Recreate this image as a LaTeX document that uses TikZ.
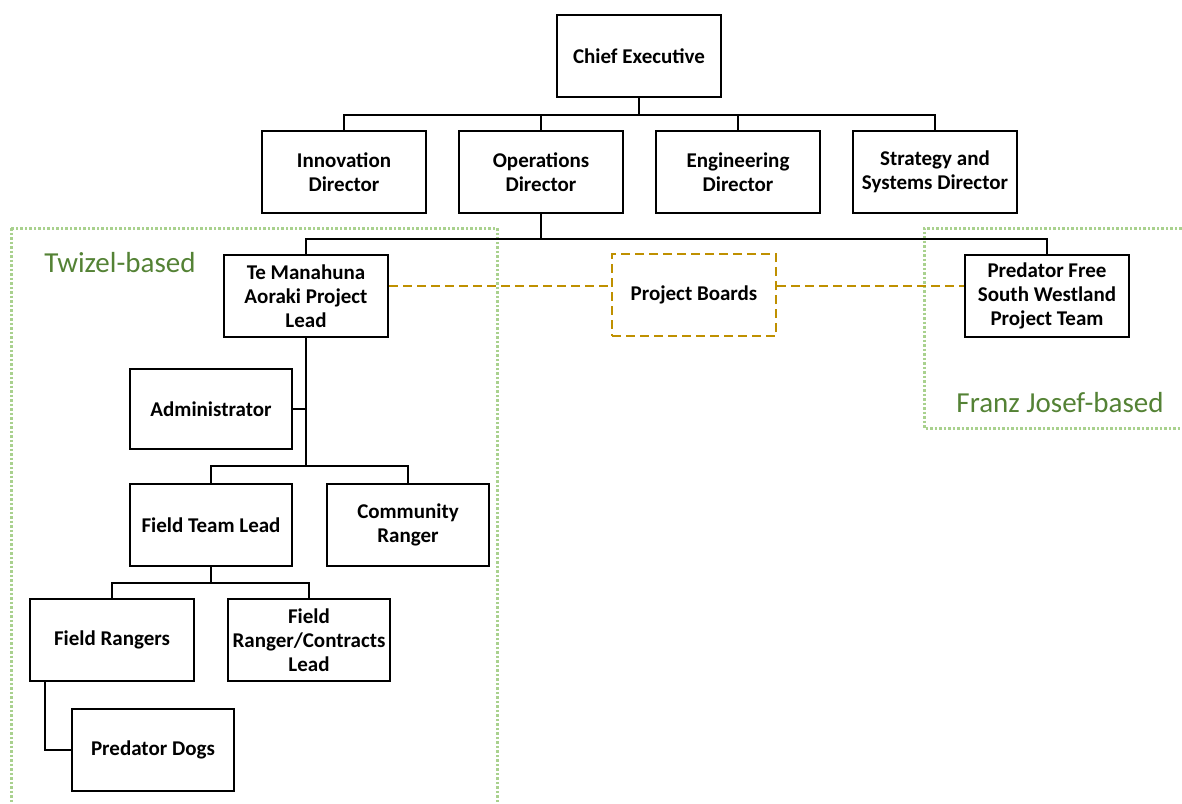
\documentclass[tikz,border=0pt]{standalone}
\usepackage{fontspec}
\setmainfont{Carlito}
\usetikzlibrary{calc}
\definecolor{zonegreen}{HTML}{A9D18E}
\definecolor{zonetext}{HTML}{548235}
\definecolor{boardgold}{HTML}{BF9000}
\tikzset{
  role/.style={draw=black, line width=2pt, minimum width=164pt, minimum height=82pt,
    inner sep=0pt, align=center, font=\bfseries\fontsize{21}{24}\selectfont},
  board/.style={role, draw=boardgold, dash pattern=on 9pt off 5pt},
  link/.style={line width=2pt, black},
  boardlink/.style={line width=2pt, boardgold, dash pattern=on 9pt off 5pt},
  zone/.style={line width=3pt, zonegreen, dash pattern=on 2.5pt off 2pt},
  zonelabel/.style={zonetext, font=\fontsize{29}{32}\selectfont}
}
\begin{document}
\begin{tikzpicture}[x=1pt,y=-1pt, line join=miter]
    \useasboundingbox (0,0) rectangle (1182,803);
    % zones
    \draw[zone] (11,228) rectangle (497,812);
    \draw[zone] (1195,228) -- (924,228) -- (924,428) -- (1195,428);
    \node[zonelabel] (twizel) at (120,263) {Twizel-based};
    \node[zonelabel] (franz) at (1060,403) {Franz Josef-based};

    % roles
    \node[role] (chief) at (639,56) {Chief Executive};
    \node[role] (innov) at (344,172) {Innovation\\Director};
    \node[role] (oper) at (541,172) {Operations\\Director};
    \node[role] (engin) at (738,172) {Engineering\\Director};
    \node[role] (strat) at (935,172) {Strategy and\\Systems Director};
    \node[role, fill=white] (temana) at (306,296) {Te Manahuna\\Aoraki Project\\Lead};
    \node[board] (boards) at (694,295) {Project Boards};
    \node[role, fill=white] (pfsw) at (1047,296) {Predator Free\\South Westland\\Project Team};
    \node[role, minimum width=162pt, minimum height=80pt] (admin) at (211,409) {Administrator};
    \node[role, minimum width=162pt] (ftl) at (211,525) {Field Team Lead};
    \node[role, minimum width=162pt] (comm) at (408,525) {Community\\Ranger};
    \node[role] (frang) at (112,640) {Field Rangers};
    \node[role, minimum width=162pt] (frcl) at (309,640) {Field\\Ranger/Contracts\\Lead};
    \node[role, minimum width=162pt] (dogs) at (153,750) {Predator Dogs};

    % reporting lines
    \draw[link] (chief.south) -- ++(0,17) coordinate (b1);
    \foreach \n in {innov,oper,engin,strat} \draw[link] (b1) -| (\n.north);
    \draw[link] (oper.south) -- ++(0,25) coordinate (b2);
    \draw[link] (b2) -| (temana.north);
    \draw[link] (b2) -| (pfsw.north);
    \draw[link] (temana.south) -- ++(0,128) coordinate (b3);
    \draw[link] (admin.east) -- (admin.east -| temana.south);
    \draw[link] (b3) -| (ftl.north);
    \draw[link] (b3) -| (comm.north);
    \draw[link] (ftl.south) -- ++(0,16) coordinate (b4);
    \draw[link] (b4) -| (frang.north);
    \draw[link] (b4) -| (frcl.north);
    \draw[link] ([xshift=16pt]frang.south west) |- (dogs.west);

    % project boards
    \draw[boardlink] ([yshift=10pt]temana.east) -- ([yshift=9pt]boards.west);
    \draw[boardlink] ([yshift=9pt]boards.east) -- ([yshift=10pt]pfsw.west);
\end{tikzpicture}
\end{document}
